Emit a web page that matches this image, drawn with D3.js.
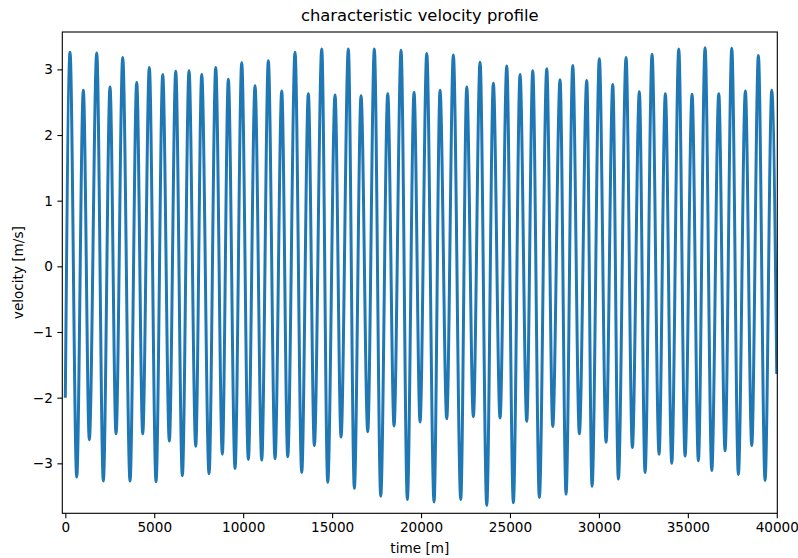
<!DOCTYPE html>
<html>
<head>
<meta charset="utf-8">
<script src="https://cdn.jsdelivr.net/npm/d3@7"></script>
<style>
body { margin: 0; background: #fff; }
text { font-family: "DejaVu Sans", sans-serif; fill: #000; }
</style>
</head>
<body>
<svg id="chart"></svg>
<script>
// values
var peakTime = [264,1012,1766,2513,3227,4015,4723,5477,6208,6955,7669,8457,9165,9918,10666,11414,12168,12915,
	13663,14417,15165,15912,16626,17374,18128,18876,19607,20321,21068,21816,22570,23318,24065,24819,25567,26281,
	27068,27816,28530,29317,30025,30779,31527,32274,32988,33736,34490,35238,35969,36739,37470,38235,38966,39719];
var peakVel = [3.26,2.68,3.25,2.73,3.18,2.80,3.03,2.92,2.97,2.98,2.92,3.03,2.85,3.10,2.75,3.13,2.67,3.26,
	2.63,3.31,2.61,3.31,2.60,3.31,2.63,3.29,2.65,3.24,2.68,3.22,2.73,3.11,2.79,3.05,2.92,2.98,
	3.01,2.84,3.06,2.83,3.16,2.77,3.18,2.66,3.23,2.63,3.31,2.62,3.33,2.63,3.32,2.67,3.21,2.68];
var troughTime = [641,1349,2137,2851,3638,4352,5100,5848,6579,7332,8080,8828,9542,10290,11043,11791,12505,13292,
	14001,14754,15502,16250,17003,17734,18482,19230,19944,20731,21445,22232,22941,23694,24442,25190,25943,26652,
	27405,28153,28901,29615,30402,31094,31881,32595,33382,34096,34844,35592,36345,37093,37841,38594,39342];
var troughVel = [-3.21,-2.64,-3.27,-2.55,-3.27,-2.55,-3.28,-2.66,-3.19,-2.74,-3.16,-2.86,-3.08,-2.94,-2.95,-2.93,-2.90,-3.14,
	-2.73,-3.29,-2.60,-3.38,-2.52,-3.50,-2.43,-3.55,-2.37,-3.59,-2.32,-3.55,-2.29,-3.64,-2.31,-3.60,-2.36,-3.52,
	-2.44,-3.47,-2.55,-3.35,-2.68,-3.24,-2.76,-3.14,-2.86,-3.00,-2.89,-2.96,-3.11,-2.81,-3.17,-2.73,-3.26];
var startPoint = [0, -2.0];
var endPoint = [40000, -1.64];
var xTicks = [0,5000,10000,15000,20000,25000,30000,35000,40000];
var yTicks = [-3,-2,-1,0,1,2,3];

var width = 798;
var height = 558;
var plotLeft = 62.3, plotRight = 777.3, plotTop = 32, plotBottom = 513.3;

var svg = d3.select("#chart")
	.attr("width", width)
	.attr("height", height);

var x = d3.scaleLinear()
	.domain([-170, 40030])
	.range([plotLeft, plotRight]);
var y = d3.scaleLinear()
	.domain([-3.761, 3.569])
	.range([plotBottom, plotTop]);

// peak, trough, peak, ... in time order
var points = [startPoint];
for (let i = 0; i < peakTime.length; i++) {
	points.push([peakTime[i], peakVel[i]]);
	if (i < troughTime.length) {
		points.push([troughTime[i], troughVel[i]]);
	}
}
points.push(endPoint);

svg.append("defs").append("clipPath")
	.attr("id", "plotclip")
	.append("rect")
	.attr("x", plotLeft)
	.attr("y", plotTop)
	.attr("width", plotRight - plotLeft)
	.attr("height", plotBottom - plotTop);

var line = d3.line()
	.x(function(d){ return x(d[0]); })
	.y(function(d){ return y(d[1]); })
	.curve(d3.curveMonotoneX);

svg.append("path")
	.datum(points)
	.attr("clip-path", "url(#plotclip)")
	.attr("fill", "none")
	.attr("stroke", "#1f77b4")
	.attr("stroke-width", 3)
	.attr("stroke-linejoin", "round")
	.attr("d", line);

var fmt = function(d){ return d < 0 ? "\u2212" + Math.abs(d) : String(d); };

var axisX = d3.axisBottom(x).tickValues(xTicks).tickFormat(fmt).tickSize(4.9).tickPadding(4.5);
var gx = svg.append("g")
	.attr("transform", "translate(0," + plotBottom + ")")
	.call(axisX);
var axisY = d3.axisLeft(y).tickValues(yTicks).tickFormat(fmt).tickSize(4.9).tickPadding(4.5);
var gy = svg.append("g")
	.attr("transform", "translate(" + plotLeft + ",0)")
	.call(axisY);

[gx, gy].forEach(function(g){
	g.select(".domain").remove();
	g.selectAll(".tick line").attr("stroke", "#000").attr("stroke-width", 1.1);
	g.selectAll(".tick text")
		.attr("font-family", "DejaVu Sans")
		.attr("font-size", "13.6px")
		.attr("fill", "#000");
});

// frame
svg.append("rect")
	.attr("x", plotLeft)
	.attr("y", plotTop)
	.attr("width", plotRight - plotLeft)
	.attr("height", plotBottom - plotTop)
	.attr("fill", "none")
	.attr("stroke", "#000")
	.attr("stroke-width", 1.1);

svg.append("text")
	.attr("x", (plotLeft + plotRight) / 2)
	.attr("y", 21)
	.attr("text-anchor", "middle")
	.attr("font-size", "16.4px")
	.text("characteristic velocity profile");

svg.append("text")
	.attr("x", (plotLeft + plotRight) / 2)
	.attr("y", 553)
	.attr("text-anchor", "middle")
	.attr("font-size", "13.6px")
	.text("time [m]");

svg.append("text")
	.attr("transform", "translate(23," + ((plotTop + plotBottom) / 2) + ") rotate(-90)")
	.attr("text-anchor", "middle")
	.attr("font-size", "13.6px")
	.text("velocity [m/s]");
</script>
</body>
</html>
